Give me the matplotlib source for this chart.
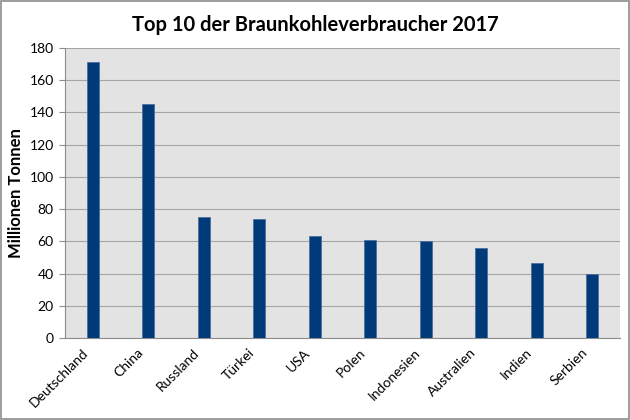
import matplotlib.pyplot as plt
import matplotlib.transforms as mtransforms
import numpy as np

laender = ['Deutschland', 'China', 'Russland', 'Türkei', 'USA', 'Polen',
           'Indonesien', 'Australien', 'Indien', 'Serbien']
verbrauch = [171, 145, 75, 74, 63.5, 61, 60, 56, 46.5, 40]
y_ticks = [0, 20, 40, 60, 80, 100, 120, 140, 160, 180]

plt.rcParams['font.family'] = ['Lato', 'DejaVu Sans']

fig = plt.figure(figsize=(6.3, 4.2), dpi=100)
ax = fig.add_axes([0.103, 0.195, 0.881, 0.691])
ax.set_facecolor('#e3e3e3')

x = np.arange(len(laender))
ax.bar(x, verbrauch, width=0.22, color='#003a78', edgecolor='#4a6fa0',
       linewidth=0.6, zorder=3)

ax.set_xlim(-0.5, len(laender) - 0.5)
ax.set_ylim(0, 180)
ax.set_yticks(y_ticks)
ax.yaxis.grid(True, color='#a6a6a6', linewidth=0.8, zorder=0)
ax.set_xticks(x)
ax.set_xticklabels(laender, rotation=45, ha='right', rotation_mode='anchor',
                   fontsize=10)
ax.tick_params(axis='x', length=0, pad=6)
ax.tick_params(axis='y', length=4, color='#8c8c8c', labelsize=10, pad=4)

shift = mtransforms.ScaledTranslation(-8 / 72, 0, fig.dpi_scale_trans)
for lbl in ax.get_xticklabels():
    lbl.set_transform(lbl.get_transform() + shift)

for side in ['top', 'right']:
    ax.spines[side].set_visible(False)
ax.spines['left'].set_color('#8c8c8c')
ax.spines['bottom'].set_color('#8c8c8c')

ax.set_ylabel('Millionen Tonnen', fontsize=12, fontweight='bold', labelpad=4)
fig.suptitle('Top 10 der Braunkohleverbraucher 2017', fontsize=14.5,
             fontweight='bold', y=0.965)

border = plt.Rectangle((0.002, 0.002), 0.996, 0.996, transform=fig.transFigure,
                       fill=False, edgecolor='#8c8c8c', linewidth=1.2)
fig.patches.append(border)

fig.savefig('out.png', dpi=100)
